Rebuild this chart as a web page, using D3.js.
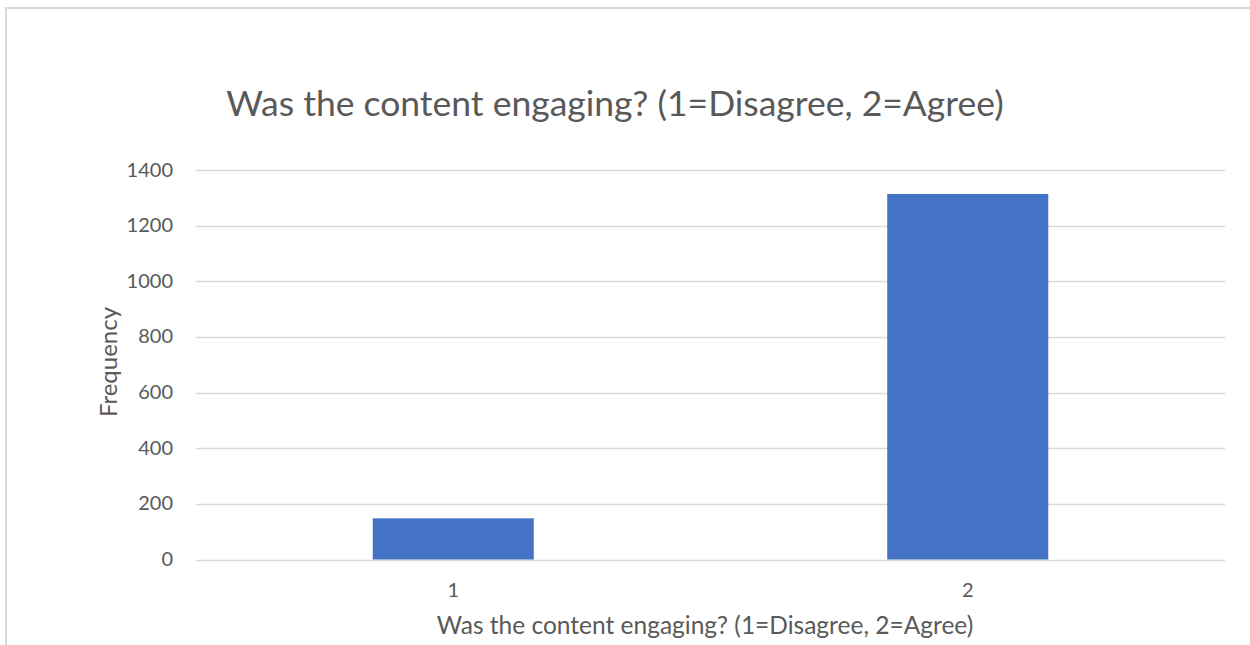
<!DOCTYPE html>
<html>
<head>
<meta charset="utf-8">
<script src="https://cdn.jsdelivr.net/npm/d3@7"></script>
<style>
  body { margin: 0; background: #fff; }
  text { font-family: Lato, "Open Sans", sans-serif; fill: #595959; }
</style>
</head>
<body>
<svg id="chart" width="1250" height="645"></svg>
<script>
var categories = ["1", "2"];
var frequency = [148, 1314];
var yTicks = [0, 200, 400, 600, 800, 1000, 1200, 1400];

var titleText = "Was the content engaging? (1=Disagree, 2=Agree)";

var svg = d3.select("#chart");

// chart area border, runs off the right and bottom edges
svg.append("rect")
   .attr("x", 6)
   .attr("y", 8)
   .attr("width", 1400)
   .attr("height", 800)
   .attr("fill", "none")
   .attr("stroke", "#d9d9d9")
   .attr("stroke-width", 2);

var plot = { left: 196, right: 1225, top: 170, bottom: 559.5 };

var x = d3.scaleBand()
          .domain(categories)
          .range([plot.left, plot.right])
          .paddingInner(0.687)
          .paddingOuter(0.3435);

var y = d3.scaleLinear()
          .domain([0, 1400])
          .range([plot.bottom, plot.top]);

// gridlines
svg.append("g")
   .selectAll("line")
   .data(yTicks)
   .enter().append("line")
   .attr("x1", plot.left)
   .attr("x2", plot.right)
   .attr("y1", function(d) { return Math.round(y(d)) + 0.5; })
   .attr("y2", function(d) { return Math.round(y(d)) + 0.5; })
   .attr("stroke", "#d9d9d9")
   .attr("stroke-width", 1.5);

// bars
svg.append("g")
   .selectAll("rect")
   .data(frequency)
   .enter().append("rect")
   .attr("x", function(d, i) { return x(categories[i]); })
   .attr("width", x.bandwidth())
   .attr("y", function(d) { return y(d); })
   .attr("height", function(d) { return y(0) - y(d); })
   .attr("fill", "#4472c4");

// y axis labels (no axis line, Excel style)
var yAxis = d3.axisLeft(y).tickValues(yTicks).tickFormat(d3.format("d"))
              .tickSize(0).tickPadding(0);
var gy = svg.append("g")
   .attr("transform", "translate(173,0)")
   .call(yAxis);
gy.select(".domain").remove();
gy.selectAll("text")
  .style("font-size", "20px")
  .attr("fill", "#595959")
  .attr("dy", "0.3em");

// x axis labels
var xAxis = d3.axisBottom(x).tickSize(0).tickPadding(0);
var gx = svg.append("g")
   .attr("transform", "translate(0," + 582 + ")")
   .call(xAxis);
gx.select(".domain").remove();
gx.selectAll("text")
  .style("font-size", "20px")
  .attr("fill", "#595959")
  .attr("dy", "0.75em");

// titles
svg.append("text")
   .attr("x", 615)
   .attr("y", 116)
   .attr("text-anchor", "middle")
   .style("font-size", "35.5px")
   .text(titleText);

svg.append("text")
   .attr("x", 705)
   .attr("y", 634)
   .attr("text-anchor", "middle")
   .style("font-size", "24.5px")
   .text(titleText);

svg.append("text")
   .attr("transform", "translate(117,362) rotate(-90)")
   .attr("text-anchor", "middle")
   .style("font-size", "24px")
   .text("Frequency");
</script>
</body>
</html>
